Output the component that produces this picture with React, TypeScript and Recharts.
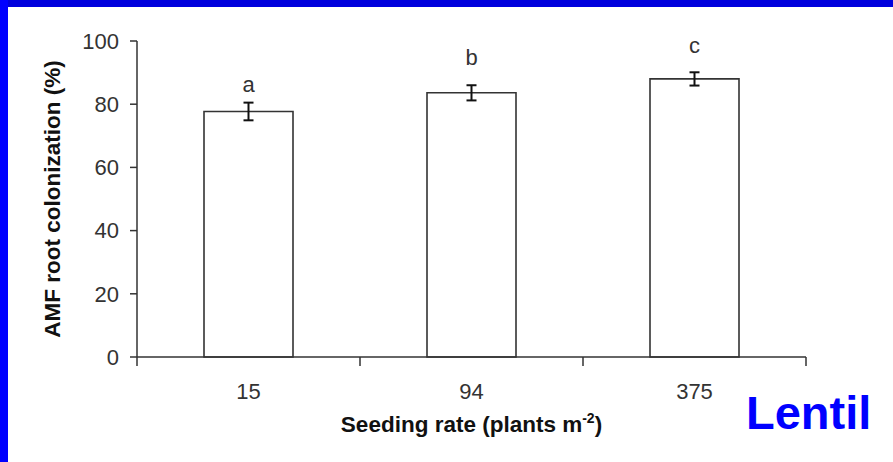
import { Bar, BarChart, ErrorBar, LabelList, XAxis, YAxis } from "recharts";

// Lentil: AMF root colonization vs seeding rate
const RATES = ["15", "94", "375"];
const COLONIZATION = [77.7, 83.6, 88.0];
const STD_ERR = [2.8, 2.4, 2.1];
const LETTERS = ["a", "b", "c"];
const Y_TICKS = [0, 20, 40, 60, 80, 100];

const W = 893;
const H = 462;
const FONT = '"Liberation Sans", Arial, Helvetica, sans-serif';
const INK = "#333";
const X_TICK = 9;
// letters were placed by hand in the original, so the gap differs per bar
const LETTER_GAP = [11, 20, 19];

const dados = RATES.map((rate, i) => ({
  rate,
  value: COLONIZATION[i],
  err: STD_ERR[i],
  letter: LETTERS[i],
}));

function XTick(props: any) {
  const { x, y, payload, index } = props;
  const half = payload?.offset || 111.5;
  const axisY = y - X_TICK;
  const last = index === RATES.length - 1;
  return (
    <g>
      <line x1={x - half} x2={x - half} y1={axisY} y2={axisY + X_TICK} stroke={INK} strokeWidth={1.5} />
      {last && (
        <line x1={x + half} x2={x + half} y1={axisY} y2={axisY + X_TICK} stroke={INK} strokeWidth={1.5} />
      )}
      <text x={x} y={axisY + 42} textAnchor="middle" fontSize={22} fill={INK}>
        {payload.value}
      </text>
    </g>
  );
}

function Letra(props: any) {
  const vb = props.viewBox ?? props;
  const { x, y, width, height } = vb;
  const i = props.index ?? 0;
  const errPx = (STD_ERR[i] * height) / COLONIZATION[i];
  return (
    <text x={x + width / 2} y={y - errPx - LETTER_GAP[i]} textAnchor="middle" fontSize={22} fill={INK}>
      {LETTERS[i]}
    </text>
  );
}

export default function App() {
  return (
    <div
      style={{
        position: "fixed",
        left: 0,
        top: 0,
        width: W,
        height: H,
        background: "#fff",
        fontFamily: FONT,
        overflow: "hidden",
      }}
    >
      <div style={{ position: "absolute", left: 0, top: 0, width: W, height: 7, background: "#0000dd" }} />
      <div style={{ position: "absolute", left: 0, top: 0, width: 8, height: H, background: "#0000ff" }} />
      <div style={{ position: "absolute", left: 0, top: 0 }}>
        <BarChart width={W} height={H} data={dados} margin={{ top: 41, right: 87, bottom: 45, left: 67 }}>
          <XAxis
            dataKey="rate"
            height={60}
            tickLine={false}
            tickSize={X_TICK}
            tickMargin={0}
            axisLine={{ stroke: INK, strokeWidth: 1.5 }}
            tick={<XTick />}
            interval={0}
            label={{
              content: (p: any) => {
                const vb = p.viewBox;
                return (
                  <text
                    x={vb.x + vb.width / 2}
                    y={vb.y + 75}
                    textAnchor="middle"
                    fontSize={22.5}
                    fontWeight="bold"
                    fill="#111"
                  >
                    Seeding rate (plants m
                    <tspan fontSize={14} dy={-9}>-2</tspan>
                    <tspan dy={9}>)</tspan>
                  </text>
                );
              },
            }}
          />
          <YAxis
            domain={[0, 100]}
            ticks={Y_TICKS}
            width={70}
            tickSize={7}
            tickMargin={11}
            interval={0}
            tick={{ fill: INK, fontSize: 22 }}
            axisLine={{ stroke: INK, strokeWidth: 1.5 }}
            tickLine={{ stroke: INK, strokeWidth: 1.5 }}
            label={{
              content: (p: any) => {
                const vb = p.viewBox;
                const cy = vb.y + vb.height / 2;
                return (
                  <text
                    x={52}
                    y={cy}
                    transform={`rotate(-90, 52, ${cy})`}
                    textAnchor="middle"
                    dominantBaseline="central"
                    fontSize={22.5}
                    fontWeight="bold"
                    fill="#111"
                  >
                    AMF root colonization (%)
                  </text>
                );
              },
            }}
          />
          <Bar dataKey="value" fill="#fff" stroke={INK} strokeWidth={1.6} barSize={89} isAnimationActive={false}>
            <ErrorBar dataKey="err" width={5} stroke="#111" strokeWidth={2} isAnimationActive={false} />
            <LabelList dataKey="letter" content={<Letra />} />
          </Bar>
        </BarChart>
      </div>
      <div
        style={{
          position: "absolute",
          left: 746,
          top: 384,
          fontSize: 47,
          fontWeight: "bold",
          color: "#0000ff",
          lineHeight: "57px",
        }}
      >
        Lentil
      </div>
    </div>
  );
}
